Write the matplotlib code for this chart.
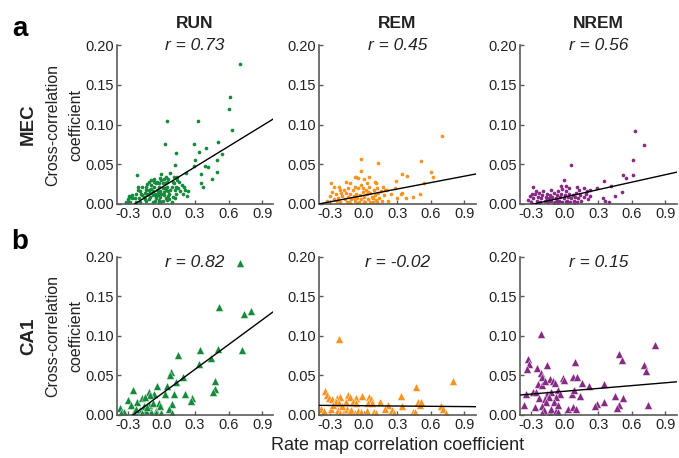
import matplotlib
matplotlib.use("Agg")
import matplotlib.pyplot as plt
import numpy as np

plt.rcParams['font.family'] = ['Liberation Sans', 'DejaVu Sans']

# ---------------- data ----------------
conditions = ["RUN", "REM", "NREM"]
regions = ["MEC", "CA1"]
x_ticks = [-0.3, 0.0, 0.3, 0.6, 0.9]
y_ticks = [0.00, 0.05, 0.10, 0.15, 0.20]

r_mec = ["0.73", "0.45", "0.56"]
r_ca1 = ["0.82", "-0.02", "0.15"]

# regression lines (slope, intercept)
fit_mec_slope = [0.0863, 0.0269, 0.0313]
fit_mec_icpt = [0.0207, 0.0108, 0.0087]
fit_ca1_slope = [0.104, -0.0012, 0.0119]
fit_ca1_icpt = [0.0265, 0.0117, 0.0300]

mec_run = [
    (0.70, 0.176), (0.61, 0.135), (0.60, 0.119), (0.63, 0.093), (0.05, 0.104), (0.33, 0.104),
    (0.03, 0.075), (0.29, 0.076), (0.40, 0.070), (0.51, 0.078), (0.54, 0.063), (0.13, 0.064),
    (0.34, 0.065), (0.30, 0.055), (0.12, 0.049), (0.50, 0.055), (0.29, 0.048), (0.39, 0.048),
    (0.42, 0.046), (-0.22, 0.036), (0.50, 0.040), (0.35, 0.038), (0.45, 0.031), (0.35, 0.027),
    (0.37, 0.021), (0.22, 0.039), (0.24, 0.016),
    (-0.32, 0.003), (-0.29, 0.010), (-0.28, 0.009), (-0.26, 0.007), (-0.21, 0.022), (-0.17, 0.021),
    (-0.135, 0.022), (-0.11, 0.028), (-0.09, 0.024), (-0.07, 0.032), (-0.04, 0.028), (-0.02, 0.026),
    (0.00, 0.038), (0.02, 0.032), (0.04, 0.034), (0.08, 0.039), (0.11, 0.034), (0.11, 0.026),
    (0.14, 0.034), (0.16, 0.028), (0.18, 0.024), (0.20, 0.022), (0.21, 0.018), (0.17, 0.016),
    (0.13, 0.013), (0.10, 0.009), (0.09, 0.003), (0.04, 0.007), (-0.02, 0.005), (-0.08, 0.003),
    (-0.14, 0.004), (-0.20, 0.007), (-0.23, 0.003), (-0.17, 0.011), (-0.13, 0.013), (-0.08, 0.016),
    (-0.04, 0.018), (0.01, 0.020), (0.05, 0.022), (0.08, 0.018), (0.13, 0.022), (0.02, 0.011),
    (-0.05, 0.010), (-0.10, 0.009), (-0.14, 0.018), (-0.19, 0.016), (-0.23, 0.013), (-0.26, 0.011),
    (-0.07, 0.022), (-0.02, 0.022), (0.01, 0.026), (0.05, 0.028), (-0.05, 0.026), (-0.11, 0.018),
    (-0.16, 0.009), (0.10, 0.028), (0.07, 0.013), (0.04, 0.018), (0.15, 0.020), (0.12, 0.018),
    (0.05, 0.005), (-0.01, 0.009), (-0.05, 0.007), (-0.11, 0.006), (-0.19, 0.003), (-0.28, 0.003),
    (-0.21, 0.018), (-0.07, 0.028), (-0.09, 0.030), (0.00, 0.030), (0.03, 0.026),
    (-0.12, 0.012), (-0.10, 0.014), (-0.08, 0.011), (-0.06, 0.013), (-0.03, 0.014), (-0.01, 0.016),
    (0.00, 0.013), (0.02, 0.015), (0.03, 0.020), (0.06, 0.016), (-0.15, 0.014), (-0.18, 0.012),
    (-0.09, 0.019), (-0.03, 0.011), (0.06, 0.010), (-0.24, 0.008), (-0.30, 0.006), (-0.15, 0.006),
    (-0.02, 0.002), (0.07, 0.006), (0.12, 0.008), (0.19, 0.013), (0.23, 0.010), (-0.06, 0.004),
    (0.01, 0.004), (0.09, 0.022), (0.14, 0.030), (-0.13, 0.025), (-0.01, 0.033), (0.06, 0.032),
]

mec_rem = [
    (0.70, 0.0855), (-0.02, 0.057), (0.13, 0.052), (0.51, 0.054), (-0.02, 0.042), (-0.29, 0.026),
    (0.34, 0.038), (0.39, 0.035), (0.60, 0.040), (0.62, 0.034), (0.54, 0.027), (0.29, 0.029),
    (-0.07, 0.034), (0.05, 0.034), (-0.16, 0.028), (0.00, 0.031), (0.10, 0.028), (0.50, 0.013),
    (0.44, 0.009), (0.34, 0.014), (0.38, 0.007), (0.30, 0.007), (0.22, 0.004), (-0.33, 0.004),
    (-0.21, 0.018), (-0.27, 0.021), (-0.08, 0.034), (-0.12, 0.026), (-0.05, 0.033), (0.11, 0.026),
    (0.17, 0.022), (0.21, 0.018), (0.24, 0.013), (0.28, 0.020), (0.33, 0.013),
    (-0.30, 0.010), (-0.27, 0.006), (-0.25, 0.012), (-0.23, 0.008), (-0.21, 0.003), (-0.19, 0.010),
    (-0.17, 0.006), (-0.16, 0.014), (-0.14, 0.009), (-0.13, 0.003), (-0.12, 0.012), (-0.11, 0.006),
    (-0.10, 0.017), (-0.09, 0.010), (-0.08, 0.004), (-0.07, 0.013), (-0.06, 0.008), (-0.05, 0.020),
    (-0.04, 0.003), (-0.03, 0.011), (-0.02, 0.006), (-0.01, 0.015), (0.00, 0.009), (0.01, 0.003),
    (0.02, 0.018), (0.03, 0.012), (0.04, 0.006), (0.05, 0.022), (0.06, 0.014), (0.07, 0.009),
    (0.08, 0.003), (0.09, 0.017), (0.10, 0.011), (0.11, 0.005), (0.12, 0.020), (0.13, 0.014),
    (0.14, 0.008), (0.15, 0.016), (0.16, 0.004), (0.18, 0.011), (0.19, 0.017), (-0.24, 0.004),
    (-0.18, 0.017), (-0.14, 0.020), (-0.08, 0.022), (-0.02, 0.024), (0.03, 0.026), (-0.12, 0.001),
    (-0.06, 0.001), (0.00, 0.002), (0.06, 0.002), (-0.20, 0.014), (-0.15, 0.002), (-0.09, 0.007),
    (-0.01, 0.020), (0.04, 0.015), (0.08, 0.007), (0.12, 0.002), (-0.28, 0.015), (-0.22, 0.022),
]

mec_nrem = [
    (0.63, 0.092), (0.71, 0.074), (0.61, 0.055), (0.06, 0.049), (0.52, 0.037), (0.61, 0.036),
    (0.55, 0.033), (-0.01, 0.030), (0.35, 0.029), (0.41, 0.023), (0.51, 0.015), (0.45, 0.010),
    (-0.28, 0.021), (0.34, 0.008), (0.36, 0.004), (0.40, 0.003), (0.29, 0.020), (0.11, 0.021),
    (0.01, 0.023), (-0.03, 0.023), (0.20, 0.016), (0.23, 0.018), (0.17, 0.020), (0.13, 0.018),
    (-0.33, 0.005), (-0.31, 0.010), (-0.30, 0.002), (-0.28, 0.007), (-0.27, 0.012), (-0.25, 0.004),
    (-0.24, 0.009), (-0.23, 0.014), (-0.22, 0.002), (-0.21, 0.007), (-0.20, 0.011), (-0.19, 0.016),
    (-0.18, 0.004), (-0.17, 0.009), (-0.16, 0.013), (-0.15, 0.002), (-0.14, 0.007), (-0.13, 0.011),
    (-0.12, 0.004), (-0.11, 0.009), (-0.10, 0.014), (-0.09, 0.002), (-0.08, 0.007), (-0.07, 0.011),
    (-0.06, 0.016), (-0.05, 0.004), (-0.04, 0.009), (-0.03, 0.013), (-0.02, 0.002), (-0.01, 0.007),
    (0.00, 0.011), (0.01, 0.016), (0.02, 0.004), (0.03, 0.009), (0.04, 0.013), (0.05, 0.002),
    (0.06, 0.007), (0.07, 0.011), (0.08, 0.004), (0.09, 0.009), (0.10, 0.014), (0.11, 0.002),
    (0.12, 0.007), (0.14, 0.011), (0.15, 0.004), (0.17, 0.009), (0.19, 0.013), (0.21, 0.006),
    (0.23, 0.010), (-0.26, 0.016), (-0.12, 0.018), (-0.02, 0.019), (0.04, 0.020), (-0.16, 0.006),
    (-0.06, 0.001), (0.02, 0.001), (-0.10, 0.001), (0.08, 0.001), (-0.29, 0.013), (-0.07, 0.005),
]

ca1_run = [
    (0.703, 0.192), (0.514, 0.136), (0.739, 0.128), (0.802, 0.131), (0.72, 0.082), (0.508, 0.083),
    (0.348, 0.082), (0.447, 0.072), (0.339, 0.065), (0.147, 0.076), (0.084, 0.054), (0.072, 0.050),
    (0.192, 0.048), (0.126, 0.042), (0.483, 0.043), (0.477, 0.033), (0.462, 0.029), (0.054, 0.037),
    (0.213, 0.027), (0.111, 0.026), (0.273, 0.021), (0.267, 0.018), (-0.036, 0.037), (0.036, 0.027),
    (-0.063, 0.027), (-0.255, 0.032), (-0.114, 0.029), (-0.099, 0.025), (-0.30, 0.019), (-0.216, 0.017),
    (-0.177, 0.021), (-0.15, 0.023), (-0.27, 0.013), (-0.372, 0.009), (-0.336, 0.004), (-0.366, 0.003),
    (-0.246, 0.004), (-0.195, 0.006), (-0.153, 0.011), (-0.111, 0.013), (-0.072, 0.015), (-0.021, 0.015),
    (-0.012, 0.011), (-0.051, 0.005), (-0.096, 0.004), (-0.141, 0.005), (0.096, 0.014), (0.069, 0.008),
    (0.09, 0.003), (-0.045, 0.003), (-0.171, 0.002), (-0.126, 0.010), (-0.225, 0.008), (-0.006, 0.002),
]

ca1_rem = [
    (-0.225, 0.096), (0.796, 0.043), (0.471, 0.035), (0.336, 0.024), (-0.348, 0.030), (-0.327, 0.025),
    (-0.312, 0.021), (-0.282, 0.020), (-0.237, 0.021), (-0.21, 0.023), (-0.138, 0.025), (-0.123, 0.023),
    (-0.066, 0.021), (-0.018, 0.024), (0.048, 0.023), (0.063, 0.020), (0.141, 0.017), (-0.249, 0.016),
    (-0.219, 0.015), (-0.162, 0.016), (-0.096, 0.017), (-0.066, 0.015), (0.039, 0.015), (0.078, 0.015),
    (0.213, 0.012), (0.342, 0.011), (0.489, 0.016), (0.504, 0.012), (0.51, 0.017), (0.694, 0.011),
    (0.712, 0.008), (0.736, 0.003), (-0.381, 0.008), (-0.357, 0.005), (-0.297, 0.008), (-0.231, 0.006),
    (-0.216, 0.003), (-0.177, 0.004), (-0.153, 0.008), (-0.132, 0.004), (-0.111, 0.006), (-0.078, 0.003),
    (-0.048, 0.005), (-0.024, 0.004), (0.027, 0.005), (0.09, 0.004), (0.108, 0.002), (0.192, 0.008),
    (0.249, 0.006), (0.273, 0.003), (0.438, 0.004), (0.459, 0.004), (-0.198, 0.011), (-0.276, 0.012),
]

ca1_nrem = [
    (-0.213, 0.102), (0.811, 0.088), (0.486, 0.077), (0.514, 0.070), (0.709, 0.063), (0.727, 0.056),
    (-0.327, 0.071), (-0.318, 0.064), (-0.333, 0.058), (-0.246, 0.060), (-0.159, 0.063), (0.093, 0.067),
    (-0.216, 0.053), (-0.201, 0.048), (0.075, 0.048), (0.111, 0.048), (-0.012, 0.047), (-0.003, 0.044),
    (-0.135, 0.045), (-0.108, 0.043), (-0.09, 0.040), (0.153, 0.041), (0.219, 0.037), (0.354, 0.039),
    (-0.24, 0.039), (-0.207, 0.038), (-0.177, 0.043), (-0.342, 0.027), (-0.285, 0.029), (-0.255, 0.029),
    (-0.156, 0.027), (-0.123, 0.029), (-0.06, 0.031), (-0.042, 0.027), (0.069, 0.027), (0.084, 0.031),
    (0.135, 0.024), (0.447, 0.024), (0.52, 0.021), (-0.231, 0.021), (-0.177, 0.020), (-0.141, 0.023),
    (-0.081, 0.023), (-0.171, 0.016), (-0.096, 0.016), (0.348, 0.017), (0.291, 0.014), (0.273, 0.011),
    (0.483, 0.013), (0.471, 0.009), (0.745, 0.013), (-0.366, 0.012), (-0.267, 0.010), (-0.207, 0.011),
    (-0.186, 0.006), (-0.207, 0.003), (-0.135, 0.004), (-0.12, 0.007), (-0.081, 0.005), (-0.057, 0.004),
    (0.03, 0.007), (0.078, 0.010), (0.105, 0.008), (-0.06, 0.012),
]

colors = ["#168a3c", "#f7931e", "#852a85"]

# ---------------- figure ----------------
fig = plt.figure(figsize=(6.79, 4.58), dpi=100)

lefts = [0.1719, 0.4698, 0.7658]
width = 0.2306
row_bottom = [0.5546, 0.0939]
row_height = [0.347, 0.3456]

mec_data = [mec_run, mec_rem, mec_nrem]
ca1_data = [ca1_run, ca1_rem, ca1_nrem]
spine_col = "#5a5a5a"
text_col = "#222222"

for row in range(2):
    for col in range(3):
        ax = fig.add_axes([lefts[col], row_bottom[row], width, row_height[row]])
        if row == 0:
            pts = np.array(mec_data[col])
            ax.scatter(pts[:, 0], pts[:, 1], s=7, color=colors[col], linewidths=0, zorder=2)
            slope, icpt, rtxt = fit_mec_slope[col], fit_mec_icpt[col], r_mec[col]
        else:
            pts = np.array(ca1_data[col])
            ax.scatter(pts[:, 0], pts[:, 1], s=32, marker='^', color=colors[col],
                       edgecolors='white', linewidths=0.3, zorder=2)
            slope, icpt, rtxt = fit_ca1_slope[col], fit_ca1_icpt[col], r_ca1[col]
        xl = np.array([-0.4, 1.0])
        ax.plot(xl, slope * xl + icpt, color='black', lw=1.0, zorder=3)
        ax.set_xlim(-0.4, 1.0)
        ax.set_ylim(0, 0.2)
        ax.set_xticks(x_ticks)
        ax.set_xticklabels([f"{v:.1f}" for v in x_ticks])
        ax.set_yticks(y_ticks)
        ax.set_yticklabels([f"{v:.2f}" for v in y_ticks])
        for s in ["top", "right"]:
            ax.spines[s].set_visible(False)
        for s in ["left", "bottom"]:
            ax.spines[s].set_color(spine_col)
            ax.spines[s].set_linewidth(1.2)
        ax.tick_params(direction='in', length=3, width=1, color=spine_col,
                       labelsize=10.5, labelcolor=text_col, pad=2)
        if row == 0:
            ax.text(0.5, 0.995, f"r = {rtxt}", transform=ax.transAxes, ha='center', va='center',
                    fontsize=12.5, style='italic', color=text_col)
            ax.text(0.5, 1.135, conditions[col], transform=ax.transAxes, ha='center', va='center',
                    fontsize=12.5, fontweight='bold', color=text_col)
        else:
            ax.text(0.5, 0.965, f"r = {rtxt}", transform=ax.transAxes, ha='center', va='center',
                    fontsize=12.5, style='italic', color=text_col)

# panel letters and row labels
fig.text(0.029, 0.936, "a", fontsize=20, fontweight='bold', ha='center', va='center', color='black')
fig.text(0.029, 0.472, "b", fontsize=20, fontweight='bold', ha='center', va='center', color='black')
row_centers = [0.7281, 0.2667]
for i, reg in enumerate(regions):
    fig.text(0.042, row_centers[i], reg, rotation=90, fontsize=13.5, fontweight='bold',
             ha='center', va='center', color=text_col)
    fig.text(0.095, row_centers[i], "Cross-correlation\ncoefficient", rotation=90, fontsize=11.5,
             ha='center', va='center', multialignment='center', linespacing=1.7, color=text_col)

fig.text(0.585, 0.028, "Rate map correlation coefficient", fontsize=13, ha='center', va='center',
         color=text_col)

fig.savefig("out.png", dpi=100)
